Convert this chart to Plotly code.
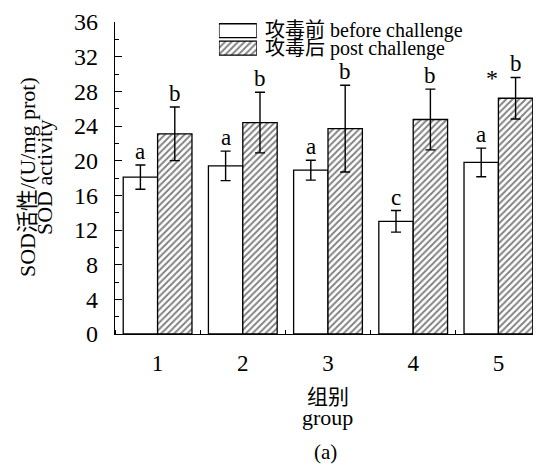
import plotly.graph_objects as go

groups = [1, 2, 3, 4, 5]
before_mean = [18.1, 19.4, 18.9, 13.0, 19.8]
before_sd = [1.4, 1.7, 1.15, 1.25, 1.65]
post_mean = [23.1, 24.4, 23.7, 24.75, 27.2]
post_sd = [3.1, 3.5, 5.0, 3.5, 2.4]
before_letters = ["a", "a", "a", "c", "a"]
post_letters = ["b", "b", "b", "b", "b"]
star_group = 5
y_ticks = list(range(0, 37, 4))
legend_names = ["攻毒前 before challenge", "攻毒后 post challenge"]
y_title_lines = ["SOD活性/(U/mg prot)", "SOD activity"]
x_title_lines = ["组别", "group"]
panel_label = "(a)"

SERIF = "Liberation Serif, Times New Roman, Noto Sans CJK SC, serif"
BARGAP = 0.193
half = (1 - BARGAP) / 2
HATCH = dict(fgcolor="black", bgcolor="white", size=4.6, solidity=0.4)

fig = go.Figure()
fig.add_trace(go.Bar(
    x=groups, y=before_mean, name=legend_names[0],
    marker=dict(color="white", line=dict(color="black", width=1.3)),
    error_y=dict(type="data", array=before_sd, color="black", thickness=1.4, width=5),
    showlegend=False,
))
fig.add_trace(go.Bar(
    x=groups, y=post_mean, name=legend_names[1],
    marker=dict(color="white", line=dict(color="black", width=1.3),
                pattern=dict(shape="/", **HATCH)),
    error_y=dict(type="data", array=post_sd, color="black", thickness=1.4, width=5),
    showlegend=False,
))

# legend swatches in an inset axis
fig.add_trace(go.Bar(
    x=[1, 1], y=[0, 1], orientation="h", width=0.8, xaxis="x2", yaxis="y2",
    marker=dict(color="white", line=dict(color="black", width=1.3),
                pattern=dict(shape=["", "/"], **HATCH)),
    showlegend=False, hoverinfo="skip",
))

def txt(size):
    return dict(family=SERIF, size=size, color="black")

annotations = []
for g, m, s, t in zip(groups, before_mean, before_sd, before_letters):
    annotations.append(dict(x=g - half / 2, y=m + s, text=t, showarrow=False, xref="x", yref="y",
                            yanchor="bottom", yshift=-1, font=txt(23)))
for g, m, s, t in zip(groups, post_mean, post_sd, post_letters):
    annotations.append(dict(x=g + half / 2, y=m + s, text=t, showarrow=False, xref="x", yref="y",
                            yanchor="bottom", yshift=-1, font=txt(23)))
i = groups.index(star_group)
annotations.append(dict(x=star_group - 0.08, y=post_mean[i] + post_sd[i], text="*", showarrow=False,
                        xref="x", yref="y", yanchor="bottom", yshift=-16, font=txt(24)))
# legend labels
for k, name in enumerate(legend_names):
    annotations.append(dict(x=0.348, y=k, xref="paper", yref="y2", text=name, showarrow=False,
                            xanchor="left", yanchor="middle", font=txt(20)))
# axis titles (separate lines for tight line spacing)
annotations.append(dict(x=-0.2066, y=0.503, xref="paper", yref="paper", text=y_title_lines[0],
                        textangle=-90, showarrow=False, xanchor="center", yanchor="middle", font=txt(22)))
annotations.append(dict(x=-0.1667, y=0.503, xref="paper", yref="paper", text=y_title_lines[1],
                        textangle=-90, showarrow=False, xanchor="center", yanchor="middle", font=txt(22)))
annotations.append(dict(x=0.499, y=-0.201, xref="paper", yref="paper", text=x_title_lines[0],
                        showarrow=False, xanchor="center", yanchor="middle", font=txt(21)))
annotations.append(dict(x=0.499, y=-0.268, xref="paper", yref="paper", text=x_title_lines[1],
                        showarrow=False, xanchor="center", yanchor="middle", font=txt(22)))
annotations.append(dict(x=0.495, y=-0.378, xref="paper", yref="paper", text=panel_label,
                        showarrow=False, xanchor="center", yanchor="middle", font=txt(21)))

# page body has an 8px margin: figure sized 533x457 so the plot lands where the reference has it
fig.update_layout(
    width=533, height=457,
    margin=dict(l=107, r=0, t=14, b=131),
    paper_bgcolor="white", plot_bgcolor="white",
    barmode="group", bargap=BARGAP, bargroupgap=0,
    font=dict(family=SERIF, size=21, color="black"),
    xaxis=dict(
        range=[0.5, 5.5], tickvals=groups, ticks="", showline=True, linecolor="black", linewidth=1.4,
        showgrid=False, zeroline=False, ticklabelstandoff=8, automargin=False,
        tickfont=txt(23),
        minor=dict(ticks="inside", tick0=0.5, dtick=1, ticklen=4, tickcolor="black", tickwidth=1.3),
    ),
    yaxis=dict(
        range=[0, 36], tickvals=y_ticks, ticks="inside", ticklen=7, tickwidth=1.3, tickcolor="black",
        showline=True, linecolor="black", linewidth=1.4, showgrid=False, zeroline=False,
        ticklabelstandoff=11, tickfont=txt(24), automargin=False,
        minor=dict(ticks="inside", dtick=2, ticklen=4, tickcolor="black", tickwidth=1.3),
    ),
    xaxis2=dict(domain=[0.244, 0.333], range=[0, 1], visible=False, anchor="y2", fixedrange=True),
    yaxis2=dict(domain=[0.888, 1.0], range=[1.5, -0.5], visible=False, anchor="x2", fixedrange=True),
    annotations=annotations,
)

fig.write_html("out.html")
